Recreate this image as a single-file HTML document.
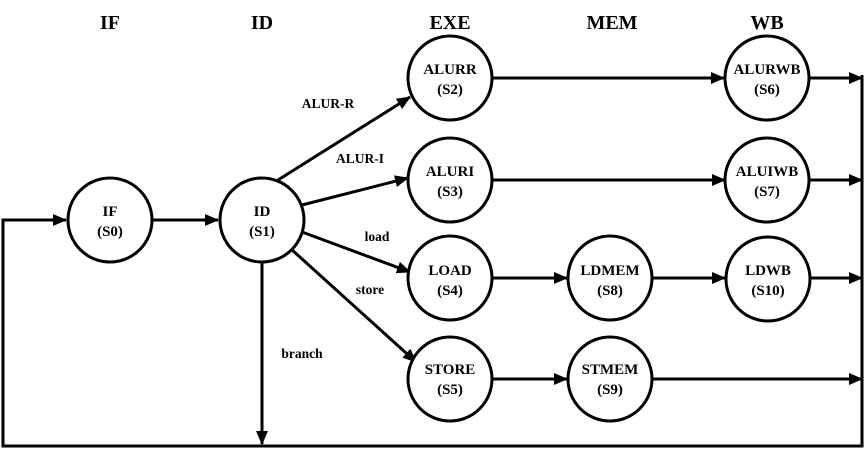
<!DOCTYPE html>
<html><head><meta charset="utf-8"><style>html,body{margin:0;padding:0;background:#fff}</style></head><body>
<svg width="866" height="455" xmlns="http://www.w3.org/2000/svg" font-family="Liberation Serif, serif" font-weight="bold">
<defs><marker id="a" markerWidth="14" markerHeight="12" refX="13" refY="6" orient="auto" markerUnits="userSpaceOnUse"><path d="M0,0 L14,6 L0,12 z" fill="#000"/></marker></defs>
<g font-size="20" text-anchor="middle">
<text x="110" y="29">IF</text><text x="262" y="29">ID</text><text x="450" y="29">EXE</text><text x="612" y="29">MEM</text><text x="767" y="29">WB</text>
</g>
<g stroke="#000" stroke-width="3" fill="none">
<polyline points="862,75 862,446 3,446 3,220 66,220" marker-end="url(#a)"/>
<line x1="152" y1="220" x2="218" y2="220" marker-end="url(#a)"/>
<line x1="262" y1="262" x2="262" y2="444" marker-end="url(#a)"/>
<line x1="278" y1="180" x2="410" y2="97" marker-end="url(#a)"/>
<line x1="302" y1="205" x2="408" y2="178" marker-end="url(#a)"/>
<line x1="302" y1="232" x2="410" y2="272" marker-end="url(#a)"/>
<line x1="291" y1="249" x2="416" y2="362" marker-end="url(#a)"/>
<line x1="492" y1="78" x2="724" y2="78" marker-end="url(#a)"/>
<line x1="492" y1="180" x2="725" y2="180" marker-end="url(#a)"/>
<line x1="492" y1="278" x2="567" y2="278" marker-end="url(#a)"/>
<line x1="652" y1="278" x2="725" y2="278" marker-end="url(#a)"/>
<line x1="492" y1="379" x2="567" y2="379" marker-end="url(#a)"/>
<line x1="652" y1="379" x2="862" y2="379" marker-end="url(#a)"/>
<line x1="808" y1="78" x2="862" y2="78" marker-end="url(#a)"/>
<line x1="810" y1="180" x2="862" y2="180" marker-end="url(#a)"/>
<line x1="810" y1="278" x2="862" y2="278" marker-end="url(#a)"/>
<g fill="#fff">
<circle cx="110" cy="220" r="42"/><circle cx="262" cy="220" r="42"/>
<circle cx="450" cy="78" r="42"/><circle cx="450" cy="180" r="42"/><circle cx="450" cy="278" r="42"/><circle cx="450" cy="379" r="42"/>
<circle cx="610" cy="278" r="42"/><circle cx="610" cy="379" r="42"/>
<circle cx="767" cy="78" r="42"/><circle cx="767" cy="180" r="42"/><circle cx="768" cy="279" r="42"/>
</g></g>
<g font-size="15" text-anchor="middle">
<text x="110" y="216">IF</text><text x="110" y="236">(S0)</text>
<text x="262" y="216">ID</text><text x="262" y="236">(S1)</text>
<text x="450" y="74">ALURR</text><text x="450" y="94">(S2)</text>
<text x="450" y="176">ALURI</text><text x="450" y="196">(S3)</text>
<text x="450" y="275">LOAD</text><text x="450" y="295">(S4)</text>
<text x="450" y="374">STORE</text><text x="450" y="394">(S5)</text>
<text x="610" y="275">LDMEM</text><text x="610" y="295">(S8)</text>
<text x="610" y="374">STMEM</text><text x="610" y="394">(S9)</text>
<text x="767" y="74">ALURWB</text><text x="767" y="94">(S6)</text>
<text x="767" y="176">ALUIWB</text><text x="767" y="196">(S7)</text>
<text x="768" y="275">LDWB</text><text x="768" y="295">(S10)</text>
</g>
<g font-size="13.5" text-anchor="middle">
<text x="328" y="108">ALUR-R</text><text x="360" y="163">ALUR-I</text><text x="377" y="241">load</text><text x="370" y="294">store</text><text x="302" y="358">branch</text>
</g>
</svg>
</body></html>
